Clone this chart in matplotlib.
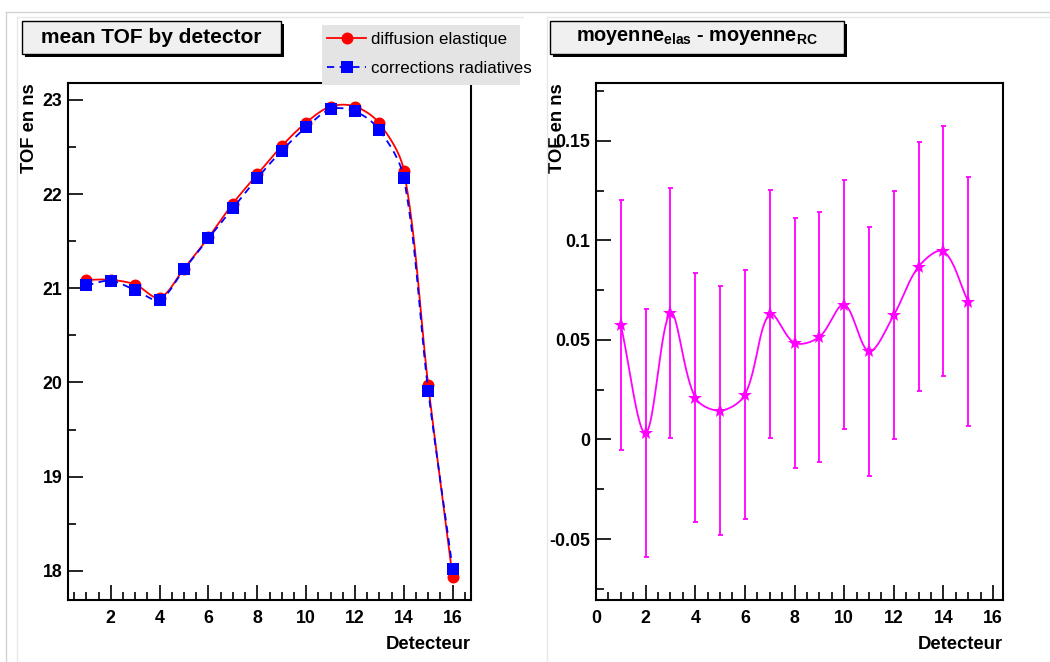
import numpy as np
import matplotlib
matplotlib.use('Agg')
import matplotlib.pyplot as plt
from matplotlib.patches import Rectangle
from matplotlib.lines import Line2D
from matplotlib.ticker import MultipleLocator, FuncFormatter

plt.rcParams['font.family'] = ['Liberation Sans', 'DejaVu Sans']
plt.rcParams['font.weight'] = 'bold'
plt.rcParams['axes.unicode_minus'] = False
plt.rcParams['mathtext.fontset'] = 'custom'
plt.rcParams['mathtext.rm'] = 'Liberation Sans:bold'
plt.rcParams['mathtext.bf'] = 'Liberation Sans:bold'
plt.rcParams['mathtext.it'] = 'Liberation Sans:bold'

# data
detectors = [1, 2, 3, 4, 5, 6, 7, 8, 9, 10, 11, 12, 13, 14, 15, 16]
tof_elas = [21.09, 21.09, 21.04, 20.90, 21.21, 21.54, 21.90, 22.21,
            22.51, 22.76, 22.93, 22.93, 22.75, 22.25, 19.97, 17.93]
tof_rc = [21.03, 21.08, 20.98, 20.88, 21.20, 21.53, 21.85, 22.17,
          22.46, 22.71, 22.90, 22.88, 22.68, 22.17, 19.91, 18.02]

diff_det = [1, 2, 3, 4, 5, 6, 7, 8, 9, 10, 11, 12, 13, 14, 15]
diff_vals = [0.0575, 0.0032, 0.0635, 0.0210, 0.0145, 0.0225, 0.0630, 0.0485,
             0.0515, 0.0677, 0.0443, 0.0625, 0.0868, 0.0945, 0.0692]
diff_err = [0.0626, 0.0623, 0.0626, 0.0626, 0.0627, 0.0626, 0.0625, 0.0626,
            0.0627, 0.0625, 0.0626, 0.0625, 0.0627, 0.0628, 0.0625]

W, H = 1050, 662
MAGENTA = '#ff00ff'


def smooth(x, y, sx, sy, n=40):
    # local cubic (Hermite) curve through the points, chord length in pixels
    p = np.column_stack([np.asarray(x, float) * sx, np.asarray(y, float) * sy])
    d = np.hypot(*np.diff(p, axis=0).T)
    m = np.zeros_like(p)
    m[0] = (p[1] - p[0]) / d[0]
    m[-1] = (p[-1] - p[-2]) / d[-1]
    for i in range(1, len(p) - 1):
        m[i] = (p[i + 1] - p[i - 1]) / (d[i - 1] + d[i])
    s = np.linspace(0, 1, n, endpoint=False)[:, None]
    h00 = 2 * s ** 3 - 3 * s ** 2 + 1
    h10 = s ** 3 - 2 * s ** 2 + s
    h01 = -2 * s ** 3 + 3 * s ** 2
    h11 = s ** 3 - s ** 2
    segs = []
    for i in range(len(p) - 1):
        segs.append(h00 * p[i] + h10 * d[i] * m[i] + h01 * p[i + 1] + h11 * d[i] * m[i + 1])
    segs.append(p[-1:])
    out = np.vstack(segs)
    return out[:, 0] / sx, out[:, 1] / sy


def fig_rect(x0, y0, x1, y1, **kw):
    return Rectangle((x0 / W, 1 - y1 / H), (x1 - x0) / W, (y1 - y0) / H,
                     transform=fig.transFigure, **kw)


def fig_line(x0, y0, x1, y1, color):
    return Line2D([x0 / W, x1 / W], [1 - y0 / H, 1 - y1 / H],
                  transform=fig.transFigure, color=color, lw=1)


def title_box(x0, y0, x1, y1, text, size):
    fig.add_artist(fig_rect(x0 + 3, y0 + 3, x1 + 3, y1 + 3, facecolor='black',
                            edgecolor='none'))
    fig.add_artist(fig_rect(x0, y0, x1, y1, facecolor='#f0f0f0',
                            edgecolor='black', lw=1))
    fig.text((x0 + x1) / 2 / W, 1 - (y0 + y1) / 2 / H, text, ha='center',
             va='center', fontsize=size, fontweight='bold')


def style_axes(ax, width_px, ymajor, yminor):
    for s in ax.spines.values():
        s.set_linewidth(1.5)
    ax.xaxis.set_major_locator(MultipleLocator(2))
    ax.xaxis.set_minor_locator(MultipleLocator(0.5))
    ax.yaxis.set_major_locator(MultipleLocator(ymajor))
    ax.yaxis.set_minor_locator(MultipleLocator(yminor))
    ax.tick_params(which='both', direction='in', top=False, right=False,
                   width=1.2, labelsize=12.8)
    ax.tick_params(which='major', length=11)
    ax.tick_params(which='minor', length=6)
    ax.tick_params(axis='x', pad=7)
    ax.tick_params(axis='y', pad=4)
    ax.yaxis.set_major_formatter(FuncFormatter(lambda v, p: '%g' % round(v, 6)))
    ax.text(-38 / width_px, 1.0, 'TOF en ns', rotation=90,
            ha='center', va='top', fontsize=13.2, fontweight='bold',
            transform=ax.transAxes)
    ax.text(1.0, -36 / 517, 'Detecteur', ha='right', va='top', fontsize=13.3,
            fontweight='bold', transform=ax.transAxes)


fig = plt.figure(figsize=(W / 100, H / 100), dpi=100)
fig.patch.set_facecolor('white')

# pad borders
fig.add_artist(fig_line(6, 12, W, 12, '#d4d4d4'))
fig.add_artist(fig_line(6, 12, 6, H, '#d4d4d4'))
fig.add_artist(fig_line(17, 17, 523, 17, '#e8e8e8'))
fig.add_artist(fig_line(17, 17, 17, H, '#e8e8e8'))
fig.add_artist(fig_line(547, 17, W, 17, '#e8e8e8'))
fig.add_artist(fig_line(547, 17, 547, H, '#e8e8e8'))

# left panel
ax1 = fig.add_axes([68 / W, 1 - 600 / H, 403 / W, 517 / H])
ax1.set_xlim(0.25, 16.75)
ax1.set_ylim(17.69, 23.18)
sx1, sy1 = 403 / 16.5, 517 / 5.49
xe, ye = smooth(detectors, tof_elas, sx1, sy1)
xr, yr = smooth(detectors, tof_rc, sx1, sy1)
ax1.plot(xe, ye, color='red', lw=1.3, zorder=2)
ax1.plot(detectors, tof_elas, 'o', color='red', ms=8.6, mew=0, zorder=3)
ax1.plot(xr, yr, color='blue', lw=1.3, ls=(0, (4, 3)), zorder=4)
ax1.plot(detectors, tof_rc, 's', color='blue', ms=8.4, mew=0, zorder=5)
style_axes(ax1, 403, 1, 0.5)

# legend: grey box of fixed size, text may run past it as in ROOT
leg_bg = fig_rect(322, 25, 520, 85, facecolor='#e4e4e4', edgecolor='none')
leg_bg.set_clip_on(False)
leg_bg.set_zorder(9)
ax1.add_artist(leg_bg)
h1 = Line2D([], [], color='red', lw=1.3, marker='o', ms=8.6, mew=0)
h2 = Line2D([], [], color='blue', lw=1.3, ls=(0, (4, 3)), marker='s', ms=8.4, mew=0)
leg = ax1.legend([h1, h2], ['diffusion elastique', 'corrections radiatives'],
                 loc='upper left', bbox_to_anchor=(322 / W, 1 - 27 / H),
                 bbox_transform=fig.transFigure, borderaxespad=0,
                 prop={'weight': 'normal', 'size': 12.2}, frameon=False,
                 handlelength=2.3, handletextpad=0.3,
                 borderpad=0.3, labelspacing=0.8)
leg.set_zorder(10)

title_box(22, 21, 281, 54, 'mean TOF by detector', 15)

# right panel
ax2 = fig.add_axes([596 / W, 1 - 600 / H, 407 / W, 517 / H])
ax2.set_xlim(0, 16.4)
ax2.set_ylim(-0.0806, 0.179)
sx2, sy2 = 407 / 16.4, 517 / 0.2596
xd, yd = smooth(diff_det, diff_vals, sx2, sy2)
ax2.plot(xd, yd, color=MAGENTA, lw=1.3, zorder=2)
ax2.errorbar(diff_det, diff_vals, yerr=diff_err, fmt='none', ecolor=MAGENTA,
             elinewidth=1.3, capsize=1.8, capthick=1.3, zorder=3)
ax2.plot(diff_det, diff_vals, '*', color=MAGENTA, ms=11, mew=0, zorder=4)
style_axes(ax2, 407, 0.05, 0.025)

title_box(550, 21, 844, 54,
          r'$\mathbf{moyenne}_{\mathbf{elas}}$ - $\mathbf{moyenne}_{\mathbf{RC}}$',
          14.3)

fig.savefig('out.png', dpi=100)
